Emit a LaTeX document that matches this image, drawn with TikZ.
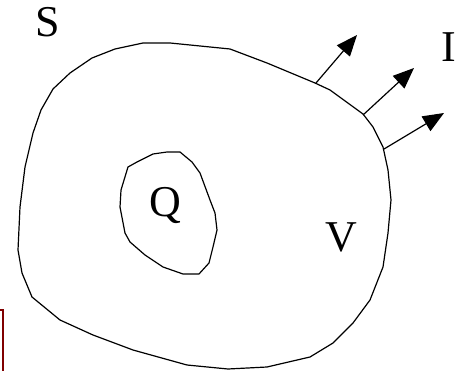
\documentclass[tikz,border=0pt]{standalone}
\usepackage{fontspec}
\setmainfont{Liberation Serif}
\usetikzlibrary{arrows.meta}

\begin{document}
\begin{tikzpicture}[x=1pt, y=-1pt,
  borde/.style={line width=1.2pt, line join=round},
  flujo/.style={-{Triangle[length=21pt, width=17pt]}, line width=1.2pt},
  etiqueta/.style={font=\fontsize{44}{46}\selectfont, inner sep=0pt}]
\useasboundingbox (0,0) rectangle (462,371);
% superficie S que encierra el volumen V
\draw[borde] (143,43) -- (170,43) -- (230,49) -- (267,63) -- (315,83) -- (330,90)
  -- (363,114) -- (373,127) -- (383,147) -- (388,170) -- (391,200) -- (388,233)
  -- (383,267) -- (370,300) -- (353,323) -- (333,343) -- (310,357) -- (267,367)
  -- (228,369) -- (187,365) -- (133,350) -- (93,335) -- (60,320) -- (32,297)
  -- (22,273) -- (18,250) -- (20,207) -- (25,167) -- (33,133) -- (41,110)
  -- (53,89) -- (70,73) -- (92,58) -- (115,49) -- cycle;
% region de la carga Q
\draw[borde] (128,167) -- (137,162) -- (153,154) -- (167,152) -- (180,152)
  -- (192,162) -- (200,173) -- (210,200) -- (215,213) -- (217,230) -- (213,247)
  -- (209,263) -- (199,274) -- (183,274) -- (163,267) -- (145,255) -- (130,242)
  -- (125,233) -- (120,207) -- (121,190) -- cycle;
\coordinate (base1) at (316,83);
\coordinate (base2) at (363,115);
\coordinate (base3) at (384,149);
\coordinate (punta1) at (357,35);
\coordinate (punta2) at (414,68);
\coordinate (punta3) at (444,113);
\draw[flujo] (base1) -- (punta1);
\draw[flujo] (base2) -- (punta2);
\draw[flujo] (base3) -- (punta3);
\node[etiqueta] (sup) at (48,22) {S};
\node[etiqueta] (corr) at (449,47) {I};
\node[etiqueta] (carga) at (165,205) {Q};
\node[etiqueta] (vol) at (341,237) {V};
\draw[line width=1.2pt, red!50!black] (0,310) -- (3,310) -- (3,371);
\end{tikzpicture}
\end{document}
